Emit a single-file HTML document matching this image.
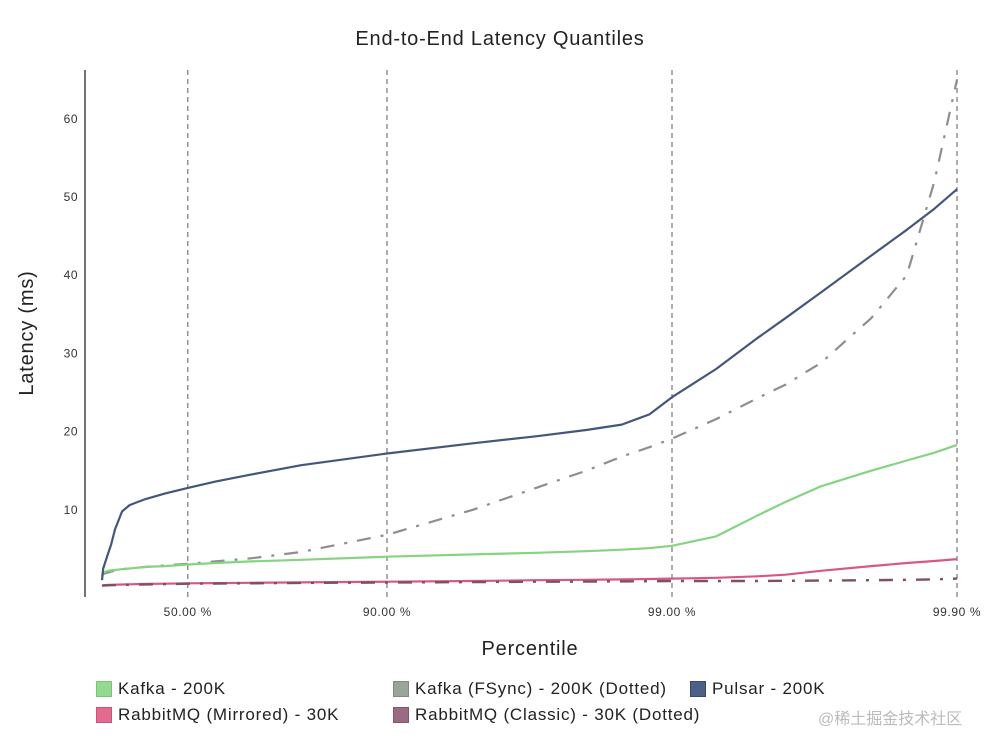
<!DOCTYPE html>
<html><head><meta charset="utf-8"><style>
body{margin:0;background:#fff;font-family:"Liberation Sans","Noto Sans CJK SC",sans-serif;}
#wrap{position:relative;width:1000px;height:745px;overflow:hidden}
.leg{position:absolute;font-size:17px;color:#222;display:flex;align-items:center;white-space:nowrap;letter-spacing:0.8px}
.sw{width:16px;height:16px;margin-right:6px;box-sizing:border-box}
</style></head><body>
<div id="wrap">
<svg id="svg" width="1000" height="745"></svg>
<div class="leg" style="left:96px;top:679px"><div class="sw" style="background:#93d991;border:1px solid #7cc47a"></div>Kafka - 200K</div>
<div class="leg" style="left:393px;top:679px"><div class="sw" style="background:#98a598;border:1px solid #7f8c7f"></div>Kafka (FSync) - 200K (Dotted)</div>
<div class="leg" style="left:690px;top:679px"><div class="sw" style="background:#4d6088;border:1px solid #3a4a6c"></div>Pulsar - 200K</div>
<div class="leg" style="left:96px;top:705px"><div class="sw" style="background:#e36b8e;border:1px solid #c9557a"></div>RabbitMQ (Mirrored) - 30K</div>
<div class="leg" style="left:393px;top:705px"><div class="sw" style="background:#9b6b86;border:1px solid #825570"></div>RabbitMQ (Classic) - 30K (Dotted)</div>
<div class="leg" style="left:818px;top:705px;color:#bbb;font-size:16px;letter-spacing:0">@稀土掘金技术社区</div>
</div>
<script>
const percentiles=[0,1,5,7,10,15,20,25,30,40,50,60,70,80,90,95,97,98,98.5,98.8,99,99.3,99.5,99.6,99.7,99.8,99.85,99.88,99.9];
const pulsar=[1,2.5,4.5,5.5,7.5,9.8,10.6,11,11.4,12.1,12.8,13.6,14.5,15.7,17.2,18.5,19.4,20.2,20.9,22.2,24.4,28,32,34.5,37.8,42.5,45.8,48.5,51];
const kafka=[1.8,2,2.2,2.25,2.3,2.4,2.5,2.6,2.7,2.8,3,3.2,3.4,3.6,4,4.3,4.5,4.7,4.9,5.1,5.4,6.6,9.3,11,13,15,16.3,17.3,18.3];
const kafkaFsync=[1.5,1.8,2,2.1,2.2,2.4,2.5,2.6,2.7,2.9,3.1,3.4,3.8,4.6,6.8,10,12.8,15,16.8,18,19.1,21.6,24.3,26,28.8,34.5,40,52,65];
const rabbitMirrored=[0.3,0.35,0.4,0.41,0.42,0.45,0.47,0.5,0.52,0.55,0.6,0.63,0.67,0.72,0.8,0.9,1,1.05,1.1,1.15,1.2,1.3,1.5,1.7,2.2,2.8,3.2,3.45,3.7];
const rabbitClassic=[0.3,0.32,0.35,0.36,0.37,0.4,0.42,0.44,0.46,0.5,0.55,0.58,0.6,0.65,0.7,0.75,0.8,0.82,0.85,0.87,0.9,0.9,0.9,0.92,0.95,1,1.05,1.1,1.2];
const yTicks=[10,20,30,40,50,60];
const xTicks=[50,90,99,99.9];
const xTickLabels=["50.00 %","90.00 %","99.00 %","99.90 %"];
const NS="http://www.w3.org/2000/svg";
const svg=document.getElementById('svg');
function X(p){return 672+285*(-Math.log10(1-p/100)-2);}
function Y(v){return 588-7.82*v;}
function el(t,a,par){const e=document.createElementNS(NS,t);for(const k in a)e.setAttribute(k,a[k]);(par||svg).appendChild(e);return e;}
let t=el('text',{x:500,y:45,'text-anchor':'middle','font-size':20,fill:'#222','letter-spacing':'0.8','font-family':'Liberation Sans'});t.textContent='End-to-End Latency Quantiles';


t=el('text',{x:33,y:333,'text-anchor':'middle','font-size':20,fill:'#222','letter-spacing':'0.8',transform:'rotate(-90 33 333)','font-family':'Liberation Sans'});t.textContent='Latency (ms)';


t=el('text',{x:530,y:655,'text-anchor':'middle','font-size':20,fill:'#222','letter-spacing':'0.8','font-family':'Liberation Sans'});t.textContent='Percentile';


let ax=el('line',{x1:85,y1:70,x2:85,y2:597,stroke:'#444','stroke-width':1.5});


yTicks.forEach(v=>{const e=el('text',{x:78,y:Y(v)+4,'text-anchor':'end','font-size':12,fill:'#333','letter-spacing':'0.5','font-family':'Liberation Sans'});e.textContent=v;

});
xTicks.forEach((p,i)=>{const g=el('line',{x1:X(p),y1:70,x2:X(p),y2:597,stroke:'#777','stroke-width':1.2,'stroke-dasharray':'5,4'});


const e=el('text',{x:X(p),y:616,'text-anchor':'middle','font-size':12,fill:'#333','letter-spacing':'0.6','font-family':'Liberation Sans'});e.textContent=xTickLabels[i];

});
function line(vals,color,dash,name,w){const d=vals.map((v,i)=>(i?'L':'M')+X(percentiles[i]).toFixed(1)+','+Y(v).toFixed(1)).join('');
const a={d:d,fill:'none',stroke:color,'stroke-width':w||2.2,'stroke-linejoin':'round'};if(dash)a['stroke-dasharray']=dash;
const p=el('path',a);

}
line(rabbitMirrored,'#d9587f',null,'series-rabbitmq-mirrored');
line(rabbitClassic,'#7e4f66','14,10,3,10','series-rabbitmq-classic',2.4);
line(kafkaFsync,'#8e8e8e','14,10,3,10','series-kafka-fsync',2.2);
line(kafka,'#86d383',null,'series-kafka');
line(pulsar,'#44577a',null,'series-pulsar');
</script>
</body></html>
